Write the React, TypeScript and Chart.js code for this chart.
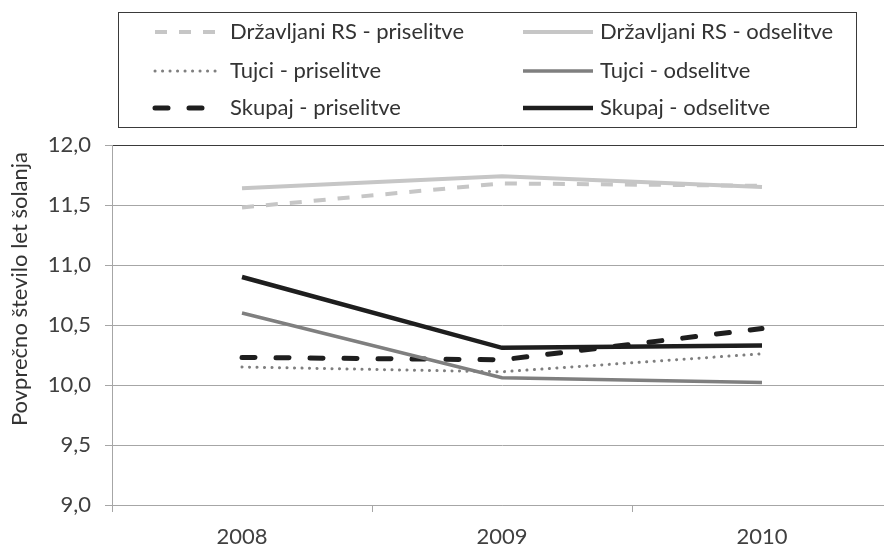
import React, { useEffect, useRef } from "react";
import { Chart, registerables } from "chart.js";

Chart.register(...registerables);

// ---- data ----
const years = ["2008", "2009", "2010"];
const drzavljaniPriselitve = [11.48, 11.68, 11.66];
const drzavljaniOdselitve = [11.64, 11.74, 11.65];
const tujciPriselitve = [10.15, 10.11, 10.26];
const tujciOdselitve = [10.6, 10.06, 10.02];
const skupajPriselitve = [10.23, 10.21, 10.47];
const skupajOdselitve = [10.9, 10.31, 10.33];

const seriesLabels = [
  "Državljani RS - priselitve",
  "Državljani RS - odselitve",
  "Tujci - priselitve",
  "Tujci - odselitve",
  "Skupaj - priselitve",
  "Skupaj - odselitve",
];
const yMin = 9;
const yMax = 12;
const yStep = 0.5;
const yAxisTitle = "Povprečno število let šolanja";

const FONT = "Lato, 'Open Sans', sans-serif";

const legendPlugin = {
  id: "customLegend",
  afterDraw(chart: any) {
    const ctx = chart.ctx as CanvasRenderingContext2D;
    ctx.save();
    // legend box
    ctx.strokeStyle = "#3a3a3a";
    ctx.lineWidth = 1;
    ctx.strokeRect(118.5, 12.5, 738, 115);
    const rowsY = [32, 71, 108];
    const cols = [
      { x0: 155, x1: 222, tx: 230 },
      { x0: 523, x1: 593, tx: 600 },
    ];
    chart.data.datasets.forEach((ds: any, i: number) => {
      const row = Math.floor(i / 2);
      const col = cols[i % 2];
      const y = rowsY[row];
      ctx.save();
      ctx.strokeStyle = ds.borderColor;
      ctx.lineWidth = ds.borderWidth;
      ctx.lineCap = ds.borderCapStyle || "butt";
      ctx.setLineDash(ds.borderDash || []);
      ctx.beginPath();
      ctx.moveTo(col.x0, y);
      ctx.lineTo(col.x1, y);
      ctx.stroke();
      ctx.restore();
      ctx.fillStyle = "#333333";
      ctx.font = "22px " + FONT;
      ctx.textAlign = "left";
      ctx.textBaseline = "middle";
      ctx.fillText(ds.label, col.tx, y);
    });
    // y axis title
    ctx.translate(20, 289);
    ctx.rotate(-Math.PI / 2);
    ctx.fillStyle = "#333333";
    ctx.font = "22px " + FONT;
    ctx.textAlign = "center";
    ctx.textBaseline = "middle";
    ctx.fillText(yAxisTitle, 0, 0);
    ctx.restore();
  },
};

export default function App() {
  const ref = useRef<HTMLCanvasElement | null>(null);
  useEffect(() => {
    document.body.style.margin = "0";
    const canvas = ref.current!;
    const light = "#c6c6c6";
    const mid = "#7f7f7f";
    const dark = "#1e1e1e";
    const chart = new Chart(canvas, {
      type: "line",
      data: {
        labels: years,
        datasets: [
          {
            label: seriesLabels[0],
            data: drzavljaniPriselitve,
            borderColor: light,
            borderWidth: 4,
            borderDash: [12, 12],
            borderCapStyle: "butt",
          },
          {
            label: seriesLabels[1],
            data: drzavljaniOdselitve,
            borderColor: light,
            borderWidth: 4,
            borderCapStyle: "butt",
          },
          {
            label: seriesLabels[2],
            data: tujciPriselitve,
            borderColor: mid,
            borderWidth: 3,
            borderDash: [0.1, 7.4],
            borderCapStyle: "round",
          },
          {
            label: seriesLabels[3],
            data: tujciOdselitve,
            borderColor: mid,
            borderWidth: 3.5,
            borderCapStyle: "butt",
          },
          {
            label: seriesLabels[4],
            data: skupajPriselitve,
            borderColor: dark,
            borderWidth: 5,
            borderDash: [13, 21],
            borderCapStyle: "round",
          },
          {
            label: seriesLabels[5],
            data: skupajOdselitve,
            borderColor: dark,
            borderWidth: 4.5,
            borderCapStyle: "butt",
          },
        ] as any,
      },
      options: {
        animation: false,
        responsive: false,
        devicePixelRatio: 1,
        elements: { point: { radius: 0, hoverRadius: 0 }, line: { tension: 0 } },
        layout: { padding: { top: 145, right: 8, left: 0, bottom: 0 } },
        plugins: { legend: { display: false }, tooltip: { enabled: false } },
        scales: {
          x: {
            offset: true,
            grid: {
              display: true,
              offset: true,
              drawOnChartArea: false,
              drawTicks: true,
              tickLength: 7,
              tickColor: "#a6a6a6",
              color: "#a6a6a6",
            },
            border: { display: true, color: "#a6a6a6", width: 1 },
            ticks: {
              color: "#404040",
              font: { family: FONT, size: 22 },
              padding: 12,
              maxRotation: 0,
            },
            afterFit(scale: any) {
              scale.height = 40;
            },
          },
          y: {
            min: yMin,
            max: yMax,
            ticks: {
              stepSize: yStep,
              color: "#404040",
              font: { family: FONT, size: 22 },
              padding: 14,
              callback: (v: any) => Number(v).toFixed(1).replace(".", ","),
            },
            grid: {
              color: (c: any) => (c.tick && c.tick.value === yMax ? "#3a3a3a" : "#a6a6a6"),
              tickColor: "#a6a6a6",
              tickLength: 7,
              lineWidth: 1,
            },
            border: { display: true, color: "#a6a6a6", width: 1 },
            afterFit(scale: any) {
              scale.width = 112;
            },
          },
        },
      },
      plugins: [legendPlugin],
    } as any);
    return () => chart.destroy();
  }, []);
  return (
    <div
      style={{
        position: "fixed",
        left: 0,
        top: 0,
        width: 884,
        height: 545,
        overflow: "hidden",
        background: "#ffffff",
      }}
    >
      <canvas ref={ref} width={900} height={545} style={{ display: "block" }} />
    </div>
  );
}
